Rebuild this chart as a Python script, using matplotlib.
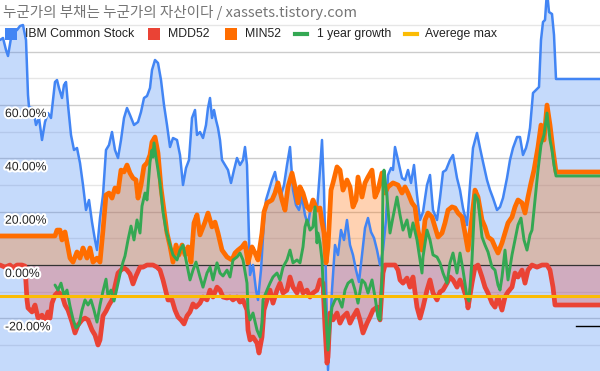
import numpy as np
import matplotlib
matplotlib.use("Agg")
import matplotlib.pyplot as plt
import matplotlib.patheffects as pe
from matplotlib.patches import Rectangle
from matplotlib.lines import Line2D

title = "누군가의 부채는 누군가의 자산이다 / xassets.tistory.com"
names = ["IBM Common Stock", "MDD52", "MIN52", "1 year growth", "Averege max"]
colors = ["#4285F4", "#EA4335", "#FF6D00", "#34A853", "#FBBC04"]

# IBM price, drawn against its own (hidden) right axis
ibm_pts = [(0,165.5),(3,166.5),(6,160.5),(8,157.5),(11,166.5),(14,169.5),(17,170.5),(20,172.5),(23,173),(26,165.5),
           (28,138),(29,132),(33,131.5),(36,123),(39,126.5),(42,115.5),(45,124.5),(48,129),(51,126.5),(53,135.5),
           (55,144.5),(57,145.5),(59,141.5),(62,136.5),(64,143),(66,144.5),(68,133),(71,118),(74,110.5),(77,111.5),
           (80,104),(83,93),(86,80.5),(89,85.5),(92,74.5),(95,65.5),(97,60.5),(100,76.5),(103,88),(106,110.5),
           (109,113),(112,119.5),(115,110.5),(118,106.5),(121,115.5),(124,126.5),(127,131.5),(130,128),(134,123),
           (138,124.5),(141,129.5),(144,136.5),(147,137.5),(150,141.5),(152,150.5),(155,155.5),(158,154),(161,145.5),
           (164,133),(167,123),(170,112),(173,116.5),(177,115.5),(180,108),(183,93),(186,101.5),(189,105.5),
           (192,126.5),(195,130.5),(197,118),(200,119.5),(203,116.5),(206,123),(208,131.5),(210,136.5),(212,126.5),
           (214,130.5),(216,125.5),(218,121.5),(220,115.5),(222,105.5),(225,103),(228,100.5),(231,94),(234,100.5),
           (237,106.5),(240,103),(243,105.5),(245,112),(247,103),(250,48),(253,53),(256,40.5),(258,35.5),(261,50.5),
           (264,75.5),(266,85.5),(269,90.5),(272,95.5),(275,99.5),(278,91.5),(281,88),(284,93),(287,103),(290,112),
           (293,90.5),(296,83),(299,80.5),(302,87),(305,78),(308,73),(311,83),(314,85.5),(317,80.5),(320,100.5),
           (322,115.5),(324,90.5),(326,45.5),(328,0.5),(330,20.5),(332,40.5),(335,63),(338,58),(341,70.5),(344,65.5),
           (347,75.5),(350,63),(353,58),(356,50.5),(359,44.5),(362,58),(365,71.5),(368,76.5),(371,69.5),(374,66.5),
           (377,60.5),(380,53),(383,60.5),(386,75.5),(388,98),(391,101.5),(393,100.5),(395,112),(398,105.5),
           (402,96.5),(405,95.5),(408,100.5),(411,94),(414,103),(417,88),(420,75.5),(423,79.5),(427,93),(430,98),
           (433,80.5),(437,75.5),(440,86.5),(443,99.5),(446,100.5),(450,105.5),(453,108),(457,96.5),(460,90.5),
           (463,81.5),(467,73),(470,93),(473,111.5),(477,119),(480,111.5),(483,104.5),(487,95.5),(490,90.5),
           (493,86.5),(497,80.5),(500,82),(503,86.5),(507,96.5),(510,105.5),(513,111.5),(517,117),(520,117),
           (523,108),(526,111.5),(528,115.5),(530,121.5),(533,139),(536,140.5),(539,142),(541,165.5),(543,174.5),
           (545,175.5),(547,190),(549,179.5),(552,178.5),(554,168),(556,146),(600,146)]

# MDD52 (%)
mdd_pts = [(0,0),(5,-0.8),(10,0),(13,-1.1),(17,0),(22,0),(25,-0.4),(27,-13.1),(28,-16.1),(32,-17.6),(35,-15.0),
           (38,-19.9),(42,-18.8),(45,-21.4),(48,-17.6),(50,-19.9),(52,-14.3),(55,-11.3),(58,-10.1),(62,-11.3),
           (65,-15.0),(68,-16.9),(72,-21.4),(75,-25.5),(78,-22.5),(82,-20.6),(85,-19.9),(88,-20.6),(92,-24.4),
           (95,-26.3),(98,-30.0),(100,-28.1),(103,-19.1),(106,-17.3),(109,-15.0),(112,-13.1),(115,-7.9),(118,-3.0),
           (121,-1.9),(124,-1.1),(127,-1.9),(130,-3.4),(133,-7.1),(136,-4.1),(140,-0.8),(143,-0.8),(147,0),(150,0),
           (153,0),(157,-0.8),(160,-1.9),(163,-5.6),(166,-10.1),(168,-13.1),(172,-13.1),(175,-16.9),(178,-19.5),
           (181,-20.6),(184,-22.1),(187,-19.1),(190,-17.6),(193,-14.6),(196,-15.8),(200,-14.3),(203,-12.0),
           (207,-13.1),(210,-9.4),(213,-12.0),(217,-8.3),(220,-9.4),(223,-12.0),(227,-12.4),(230,-12.0),(233,-13.1),
           (237,-12.0),(240,-13.9),(243,-13.1),(247,-16.9),(248,-24.4),(250,-28.1),(253,-27.0),(257,-29.3),
           (259,-33.0),(262,-27.0),(264,-16.9),(267,-13.1),(270,-9.4),(273,-14.3),(277,-9.4),(280,-6.8),(283,-10.5),
           (287,-9.4),(290,-4.5),(293,-8.3),(297,-10.5),(300,-6.8),(303,-10.5),(307,-9.4),(310,-12.0),(313,-10.5),
           (317,-9.4),(320,-5.6),(323,-6.8),(325,-23.3),(327,-36.8),(328,-34.5),(330,-18.0),(333,-20.6),(337,-18.0),
           (340,-21.8),(343,-19.5),(347,-18.0),(350,-21.8),(353,-19.5),(357,-16.9),(360,-20.6),(363,-25.5),
           (367,-21.8),(370,-19.5),(373,-16.9),(377,-15.8),(380,-20.6),(383,-3.0),(385,0),(390,0),(395,0),(398,-1.9),
           (400,-5.6),(403,-6.8),(407,-4.9),(410,-8.3),(413,-4.5),(417,-15.8),(420,-19.9),(423,-15.8),(427,-9.4),
           (430,-5.6),(433,-10.5),(437,-13.1),(440,-10.1),(443,-9.4),(447,-6.8),(450,-4.5),(453,-5.6),(457,-8.3),
           (460,-5.6),(463,-8.3),(467,-13.1),(468,-16.1),(472,-6.8),(475,-0.8),(478,0),(482,-4.5),(485,-8.3),
           (488,-10.5),(492,-14.3),(495,-15.8),(498,-12.0),(502,-16.9),(505,-12.0),(508,-10.1),(512,-8.3),(515,-3.0),
           (518,-4.5),(522,-1.9),(525,-6.8),(528,-1.9),(532,0),(537,-0.8),(542,0),(547,0),(550,-1.9),(553,-8.3),
           (555,-15.0),(600,-15.0)]

# MIN52 (%)
min_pts = [(0,10.9),(55,10.9),(57,13.1),(60,13.1),(62,9.4),(65,12.4),(68,6.4),(70,2.6),(73,1.1),(77,4.9),(80,2.6),
           (83,6.4),(87,2.6),(90,6.4),(93,1.1),(97,2.6),(100,1.1),(103,13.1),(106,26.3),(109,27.0),(112,25.1),
           (115,28.9),(118,27.4),(121,35.6),(124,34.9),(127,37.5),(130,34.5),(133,32.6),(136,31.9),(138,25.1),
           (141,30.0),(144,37.1),(147,38.3),(150,41.3),(152,46.1),(155,48.0),(158,42.0),(161,28.9),(164,20.6),
           (167,12.0),(170,7.1),(173,1.1),(176,7.5),(179,3.8),(182,7.5),(185,3.8),(188,6.8),(191,1.1),(194,15.8),
           (197,18.8),(200,11.3),(205,16.1),(208,19.5),(212,14.3),(215,16.1),(218,12.0),(222,5.6),(227,3.0),(232,1.9),
           (235,4.5),(238,5.6),(242,6.8),(245,8.3),(248,0.8),(252,6.8),(255,4.5),(258,1.9),(262,12.0),(264,19.9),
           (267,23.3),(272,24.4),(275,27.0),(278,30.8),(282,24.4),(285,20.6),(288,29.3),(292,34.5),(295,29.3),
           (298,23.3),(300,29.3),(303,27.0),(307,21.8),(310,20.6),(313,24.4),(317,20.6),(320,21.4),(322,16.1),
           (324,12.0),(326,0.8),(328,6.8),(331,28.1),(333,30.8),(337,36.8),(340,35.6),(343,28.1),(347,31.9),
           (350,29.3),(353,21.8),(356,24.4),(358,33.0),(362,25.5),(365,30.8),(368,33.0),(372,35.6),(375,25.5),
           (378,28.1),(382,34.5),(385,27.0),(388,29.3),(393,30.8),(398,30.0),(402,27.0),(405,29.3),(408,27.0),
           (412,23.3),(415,21.8),(418,13.1),(422,5.6),(425,16.9),(428,19.5),(432,18.0),(435,14.3),(438,10.5),
           (442,12.0),(445,15.8),(448,20.6),(452,21.8),(455,21.4),(458,19.5),(462,18.0),(465,12.0),(468,5.6),
           (472,18.0),(475,28.1),(478,25.5),(482,16.9),(485,14.3),(488,10.5),(492,9.4),(495,6.8),(498,4.5),(502,8.3),
           (505,12.0),(508,15.8),(512,18.0),(515,21.8),(518,24.4),(522,23.3),(525,19.5),(528,25.5),(531,30.8),
           (534,35.6),(538,44.3),(541,52.5),(544,46.9),(547,60.0),(550,52.5),(553,43.1),(556,34.9),(600,34.9)]

# 1 year growth (%)
growth_pts = [(55,-7.5),(58,-9.4),(61,-6.8),(64,-11.3),(67,-9.4),(70,-15.4),(73,-20.3),(76,-23.6),(79,-22.5),
              (82,-16.9),(85,-13.1),(88,-15.0),(91,-13.1),(94,-16.9),(97,-21.4),(100,-15.0),(103,-9.8),(106,-5.3),
              (108,-11.6),(111,-9.4),(114,-13.5),(117,-8.6),(120,-3.4),(123,1.1),(125,3.4),(128,9.4),(131,14.6),
              (134,9.4),(137,16.9),(140,12.0),(142,22.1),(145,27.0),(147,24.4),(150,38.6),(152,43.1),(153,40.5),
              (154,45.8),(156,40.5),(158,35.6),(160,30.8),(163,19.9),(166,13.1),(170,7.5),(173,3.8),(177,1.9),
              (180,5.6),(183,7.5),(186,1.9),(190,-5.6),(193,-1.9),(196,1.1),(200,-4.5),(203,-8.3),(207,-3.0),
              (210,-0.8),(213,-5.6),(217,0.8),(220,-3.0),(223,-4.1),(227,-1.9),(230,-4.5),(233,1.9),(237,3.0),
              (240,4.5),(243,1.9),(247,-6.8),(248,-16.9),(250,-20.6),(253,-18.0),(257,-24.4),(260,-27.0),(262,-21.8),
              (263,-13.1),(267,-9.4),(270,-6.8),(273,-4.5),(277,-3.0),(280,-5.6),(283,-0.8),(287,1.9),(290,5.6),
              (293,0.8),(297,1.9),(300,0.8),(303,6.8),(305,14.3),(307,16.9),(310,13.1),(313,14.3),(315,21.8),
              (317,8.3),(318,12.0),(320,8.3),(322,1.9),(323,-6.8),(326,-19.5),(328,-31.9),(330,-21.8),(332,-15.8),
              (335,-13.1),(338,-12.0),(342,-15.8),(345,-9.4),(348,-6.8),(352,-5.6),(355,-9.4),(358,-14.3),(362,-5.6),
              (365,-6.8),(368,-10.5),(372,-5.6),(375,-12.0),(378,-19.5),(380,-20.6),(382,-4.5),(383,30.8),(384,35.6),
              (387,25.5),(390,12.0),(393,18.0),(397,25.5),(400,18.8),(403,13.1),(407,16.9),(410,10.5),(413,15.8),
              (417,9.4),(420,1.9),(422,-3.0),(423,3.0),(427,13.1),(430,9.4),(433,3.8),(437,3.0),(440,0.8),(443,-3.0),
              (447,-6.8),(450,0.8),(453,4.5),(457,-3.0),(460,4.5),(463,-1.9),(467,-12.0),(469,-13.5),(472,1.9),
              (475,26.3),(478,24.4),(482,10.5),(485,7.5),(488,4.9),(492,-0.8),(495,-1.9),(498,-7.5),(500,-9.4),
              (502,-4.5),(505,5.6),(508,-5.6),(512,3.8),(515,9.4),(518,15.0),(521,17.6),(524,9.4),(527,5.6),
              (530,11.3),(532,13.1),(535,24.4),(538,35.6),(541,45.0),(544,48.8),(547,57.0),(550,46.9),(552,43.1),
              (554,37.5),(556,33.4),(600,33.4)]

avg_max = -11.6
tail_pts = [(576, -22.8), (600, -22.8)]

pct_lim = (-39.75, 99.4)
ibm_lim = (0, 185.5)
label_ticks = [60, 40, 20, 0, -20]

ibm_t, ibm_price = np.array(ibm_pts).T
mdd_t, mdd = np.array(mdd_pts).T
min_t, min52 = np.array(min_pts).T
gr_t, growth = np.array(growth_pts).T
tail_t, tail_v = np.array(tail_pts).T

# put the price series onto the percent scale (secondary axis)
k = (pct_lim[1] - pct_lim[0]) / (ibm_lim[1] - ibm_lim[0])
ibm_pct = pct_lim[0] + (ibm_price - ibm_lim[0]) * k

fig = plt.figure(figsize=(6, 3.71), dpi=100)
ax = fig.add_axes([0, 0, 1, 1])
ax.set_xlim(0, 600)
ax.set_ylim(*pct_lim)
ax.axis("off")

# gridlines
for v in range(-30, 100, 10):
    if v == 0:
        continue
    ax.axhline(v, color="#cccccc" if v % 20 == 0 else "#e6e6e6", lw=1, zorder=0)

ax.fill_between(ibm_t, ibm_pct, pct_lim[0], color=colors[0], alpha=0.3, lw=0, zorder=1)
ax.fill_between(mdd_t, mdd, 0, color=colors[1], alpha=0.3, lw=0, zorder=2)
ax.fill_between(min_t, min52, 0, color=colors[2], alpha=0.3, lw=0, zorder=2)
ax.axhline(0, color="#333333", lw=0.9, zorder=3)

kw = dict(solid_joinstyle="round", solid_capstyle="round")
ax.plot(ibm_t, ibm_pct, color=colors[0], lw=1.8, zorder=4, **kw)
ax.plot(mdd_t, mdd, color=colors[1], lw=3.4, zorder=5, **kw)
ax.plot(min_t, min52, color=colors[2], lw=3.4, zorder=5, **kw)
ax.plot(gr_t, growth, color=colors[3], lw=2.1, zorder=6, **kw)
ax.axhline(avg_max, color=colors[4], lw=2.2, zorder=7)
ax.plot(tail_t, tail_v, color="black", lw=1, zorder=7)

halo = [pe.withStroke(linewidth=3, foreground="white")]
for v in label_ticks:
    ax.annotate(f"{v:.2f}%", xy=(0, v), xytext=(5, -9), textcoords="offset pixels",
                ha="left", va="center", fontsize=8.8, color="#222222",
                family="Liberation Sans", path_effects=halo, zorder=9)

def px(x, y):
    return x / 600, 1 - y / 371

fig.text(*px(3, 12), title, ha="left", va="center", fontsize=10.5, color="#757575",
         family=["Noto Sans CJK KR", "DejaVu Sans"])

leg_y = 34
items = [(5, 25, "box"), (148, 168, "box"), (225, 245, "box"), (295, 317, "line"), (405, 425, "line")]
for (mx, tx, kind), name, c in zip(items, names, colors):
    if kind == "box":
        x0, y0 = px(mx, leg_y + 6)
        ax.add_patch(Rectangle((x0, y0), 12 / 600, 12 / 371, transform=ax.transAxes,
                               color=c, lw=0, zorder=10, clip_on=False))
    else:
        xa, ya = px(mx, leg_y)
        xb, _ = px(mx + 12, leg_y)
        ax.add_line(Line2D([xa, xb], [ya, ya], transform=ax.transAxes, color=c, lw=3,
                           zorder=10, clip_on=False))
    fig.text(*px(tx, leg_y), name, ha="left", va="center", fontsize=8.8, color="#222222",
             family="Liberation Sans", zorder=10)

fig.savefig("out.png", dpi=100)
